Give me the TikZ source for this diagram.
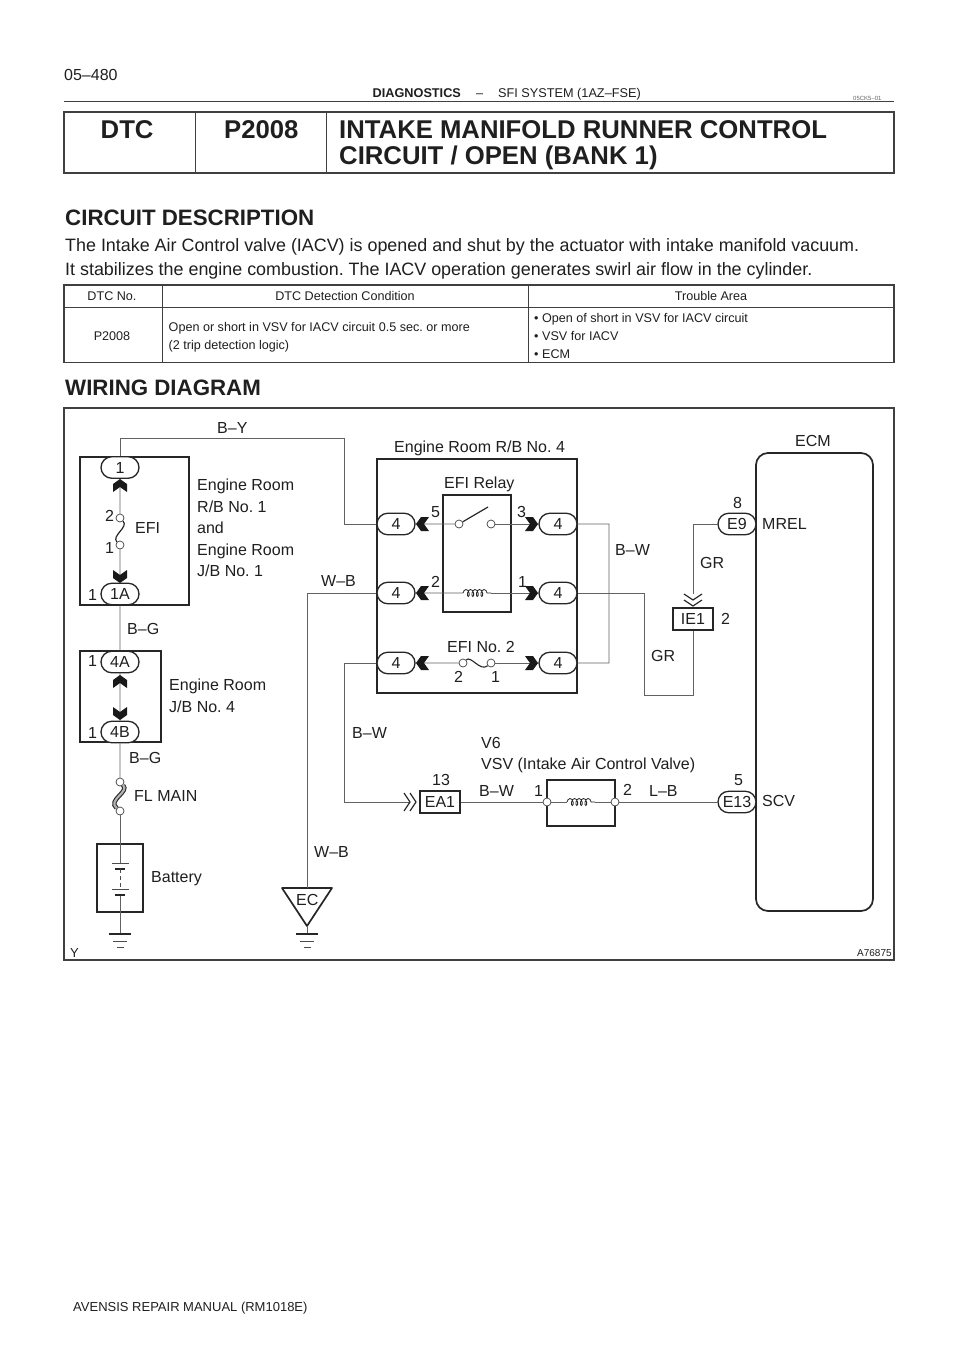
\documentclass[tikz,border=0pt]{standalone}
\usepackage{fontspec}
\setmainfont{Liberation Sans}
\frenchspacing
\usetikzlibrary{shapes.misc,decorations.pathmorphing}
\tikzset{
	wire/.style={line width=0.8pt, color=black!62},
	box/.style={line width=1.7pt, color=black!85},
	rule/.style={line width=1.5pt, color=black!75},
	thin rule/.style={line width=1pt, color=black!75},
	lbl/.style={anchor=base west, inner sep=0pt, color=black!88, font=\fontsize{16}{21.5}\selectfont},
	body lbl/.style={lbl, font=\fontsize{17.9}{21}\selectfont},
	small lbl/.style={lbl, font=\fontsize{12.6}{17}\selectfont},
	title lbl/.style={lbl, font=\bfseries\fontsize{25.7}{29}\selectfont},
	head lbl/.style={lbl, font=\bfseries\fontsize{22.3}{26}\selectfont},
	pill/.style={draw=black!85, fill=white, line width=1.3pt, rounded rectangle, minimum width=38pt, minimum height=21.5pt, inner sep=0pt, text=black!88, font=\fontsize{16}{18}\selectfont},
	block/.style={draw=black!85, fill=white, line width=1.4pt, minimum width=40pt, minimum height=22pt, inner sep=0pt, text=black!88, font=\fontsize{16}{18}\selectfont},
	term/.style={circle, draw=black!75, fill=white, line width=0.7pt, minimum size=8pt, inner sep=0pt},
	plug/.pic={\fill[black!90] (0,0) -- (7,5) -- (7,13) -- (0,8) -- (-7,13) -- (-7,5) -- cycle;},
	chev/.pic={\draw[line width=1.2pt, color=black!85] (-9,0) -- (0,6) -- (9,0) (-9,6) -- (0,12) -- (9,6);},
	gnd/.pic={\draw[line width=2pt, color=black!85] (-11,0) -- (11,0);
		\draw[line width=0.7pt, color=black!70] (-7,7) -- (7,7) (-3.5,13) -- (3.5,13);},
}
\begin{document}
\begin{tikzpicture}[x=1pt, y=-1pt]
		%%%%% START %%%%%
		\useasboundingbox (0, 0) rectangle (960, 1358);
		\fill[white] (0, 0) rectangle (960, 1358);
		
		% page head
		\node[lbl, font=\fontsize{16}{18}\selectfont] (pageno) at (64, 80) {05–480};
		\node[lbl, font=\bfseries\fontsize{12.7}{15}\selectfont] (headA) at (372.5, 97.5) {DIAGNOSTICS};
		\node[lbl, font=\fontsize{12.7}{15}\selectfont] (headB) at (476, 97.5) {–};
		\node[lbl, font=\fontsize{12.7}{15}\selectfont] (headC) at (498, 97.5) {SFI SYSTEM (1AZ–FSE)};
		\node[lbl, color=black!60, font=\fontsize{6}{8}\selectfont] (headD) at (853, 100) {05CK5–01};
		\draw[rule] (64, 101.5) -- (894, 101.5);
		
		% title block
		\draw[rule] (64, 112) rectangle (894, 173);
		\draw[thin rule] (195, 112) -- (195, 173);
		\draw[thin rule] (326, 112) -- (326, 173);
		\node[title lbl] (dtc) at (100.5, 138) {DTC};
		\node[title lbl] (code) at (224, 138) {P2008};
		\node[title lbl] (titleA) at (339, 138) {INTAKE MANIFOLD RUNNER CONTROL};
		\node[title lbl] (titleB) at (339, 164) {CIRCUIT / OPEN (BANK 1)};
		
		% description
		\node[head lbl] (descr) at (65, 225) {CIRCUIT DESCRIPTION};
		\node[body lbl] (descrA) at (65, 251) {The Intake Air Control valve (IACV) is opened and shut by the actuator with intake manifold vacuum.};
		\node[body lbl] (descrB) at (65, 275) {It stabilizes the engine combustion. The IACV operation generates swirl air flow in the cylinder.};
		
		% condition table
		\draw[rule] (64, 285) rectangle (894, 362.5);
		\draw[thin rule] (64, 307) -- (894, 307);
		\draw[thin rule] (162, 285) -- (162, 362.5);
		\draw[thin rule] (528, 285) -- (528, 362.5);
		\node[small lbl, anchor=base] (colA) at (112, 300.5) {DTC No.};
		\node[small lbl, anchor=base] (colB) at (345, 300.5) {DTC Detection Condition};
		\node[small lbl, anchor=base] (colC) at (711, 300.5) {Trouble Area};
		\node[small lbl, anchor=base] (rowA) at (112, 340) {P2008};
		\node[small lbl] (rowB) at (168.5, 331) {Open or short in VSV for IACV circuit 0.5 sec. or more};
		\node[small lbl] (rowC) at (168.5, 349) {(2 trip detection logic)};
		\node[small lbl] (rowD) at (534, 322) {• Open of short in VSV for IACV circuit};
		\node[small lbl] (rowE) at (534, 340) {• VSV for IACV};
		\node[small lbl] (rowF) at (534, 358) {• ECM};
		
		\node[head lbl] (wiring) at (65, 395) {WIRING DIAGRAM};
		
		% diagram frame
		\draw[line width=1.5pt, color=black!75] (64, 408) rectangle (894, 960);
		
		% boxes
		\draw[box] (80, 457) rectangle (189, 605);
		\draw[box] (80, 651) rectangle (161, 742);
		\draw[box] (97, 844) rectangle (143, 912);
		\draw[box] (377, 459) rectangle (577, 693);
		\draw[box] (443, 495) rectangle (511, 612);
		\draw[box] (547, 780) rectangle (615, 826);
		\draw[box, rounded corners=12pt] (756, 453) rectangle (873, 911);
		\draw[box, line join=round] (282, 888) -- (332, 888) -- (307, 926) -- cycle;
		
		% connectors
		\node[pill] (relA) at (120, 467.5) {1};
		\node[pill] (relB) at (120, 594) {1A};
		\node[pill] (jbA) at (120, 662) {4A};
		\node[pill] (jbB) at (120, 732) {4B};
		\node[pill] (leftA) at (396, 524) {4};
		\node[pill] (leftB) at (396, 593) {4};
		\node[pill] (leftC) at (396, 663) {4};
		\node[pill] (rightA) at (558, 524) {4};
		\node[pill] (rightB) at (558, 593) {4};
		\node[pill] (rightC) at (558, 663) {4};
		\node[pill] (ecmA) at (737, 524) {E9};
		\node[pill] (ecmB) at (737, 802) {E13};
		\node[block] (ieA) at (693, 619) {IE1};
		\node[block] (eaA) at (440, 802) {EA1};
		
		% terminals
		\node[term] (efiA) at (120, 518) {};
		\node[term] (efiB) at (120, 545) {};
		\node[term] (flA) at (120, 782) {};
		\node[term] (flB) at (120, 811) {};
		\node[term] (swA) at (459, 524) {};
		\node[term] (swB) at (491, 524) {};
		\node[term] (noA) at (463, 663) {};
		\node[term] (noB) at (491, 663) {};
		\node[term] (vsvA) at (547, 802) {};
		\node[term] (vsvB) at (615, 802) {};
		
		\coordinate (bendA) at (344, 438);
		\coordinate (bendB) at (307, 888);
		\coordinate (bendD) at (344, 802);
		\coordinate (bendF) at (609, 663);
		\coordinate (bendH) at (644, 695);
		\coordinate (bendI) at (693, 695);
		\coordinate (chevA) at (693, 594);
		\coordinate (chevB) at (409, 802);
		\coordinate (coilA) at (463, 593);
		\coordinate (coilB) at (491, 593);
		\coordinate (coilC) at (567, 802);
		\coordinate (coilD) at (595, 802);
		\coordinate (batA) at (120, 863);
		\coordinate (batB) at (120, 869);
		\coordinate (batC) at (120, 889);
		\coordinate (batD) at (120, 895);
		\coordinate (gndA) at (120, 934);
		\coordinate (gndB) at (307, 926);
		\coordinate (gndC) at (307, 934);
		
		% wires
		\draw[wire] (relA) |- (bendA) |- (leftA);
		\draw[wire] (relA) -- (efiA);
		\draw[wire] (efiB) -- (relB);
		\draw[wire] (relB) -- (jbA);
		\draw[wire] (jbA) -- (jbB);
		\draw[wire] (jbB) -- (flA);
		\draw[wire] (flB) -- (batA);
		\draw[wire] (batD) -- (gndA);
		\draw[wire] (gndB) -- (gndC);
		\draw[wire] (bendB) |- (leftB);
		\draw[wire] (leftC) -| (bendD) -- (chevB);
		\draw[wire] (leftA) -- (swA);
		\draw[wire] (swB) -- (rightA);
		\draw[wire] (leftB) -- (coilA);
		\draw[wire] (coilB) -- (rightB);
		\draw[wire] (leftC) -- (noA);
		\draw[wire] (noB) -- (rightC);
		\draw[wire] (rightA) -| (bendF) -- (rightC);
		\draw[wire] (rightB) -| (bendH) -- (bendI) -- (ieA);
		\draw[wire] (chevA) |- (ecmA);
		\draw[wire] (eaA) -- (vsvA);
		\draw[wire] (vsvA) -- (coilC);
		\draw[wire] (coilD) -- (vsvB);
		\draw[wire] (vsvB) -- (ecmB);
		
		% parts
		\draw[line width=1.2pt, color=black!85] (efiA) .. controls (129, 527) and (111, 536) .. (efiB);
		\draw[line width=1.1pt, color=black!85, double=black!30, double distance=2.2pt] (flA) .. controls (130, 792) and (107, 800) .. (flB);
		\draw[line width=1.2pt, color=black!85] (swA) -- (488, 507);
		\draw[line width=1.1pt, color=black!85] (noA) .. controls (471, 655) and (480, 672) .. (noB);
		\draw[line width=0.8pt, color=black!85, decorate, decoration={coil, aspect=0.55, segment length=4.5pt, amplitude=3.5pt}] (coilA) -- (coilB);
		\draw[line width=0.8pt, color=black!85, decorate, decoration={coil, aspect=0.55, segment length=4.5pt, amplitude=3.5pt}] (coilC) -- (coilD);
		\draw[line width=0.7pt, color=black!70] (112, 863) -- (129, 863);
		\draw[line width=1.6pt, color=black!85] (115, 869) -- (125, 869);
		\draw[line width=0.7pt, color=black!70, dash pattern=on 4pt off 3pt] (batB) -- (batC);
		\draw[line width=0.7pt, color=black!70] (112, 889) -- (129, 889);
		\draw[line width=1.6pt, color=black!85] (115, 895) -- (125, 895);
		
		\pic at (120, 479) {plug};
		\pic[rotate=180] at (120, 583) {plug};
		\pic at (120, 675) {plug};
		\pic[rotate=180] at (120, 720) {plug};
		\pic[rotate=90] at (416, 524) {plug};
		\pic[rotate=90] at (416, 593) {plug};
		\pic[rotate=90] at (416, 663) {plug};
		\pic[rotate=-90] at (538, 524) {plug};
		\pic[rotate=-90] at (538, 593) {plug};
		\pic[rotate=-90] at (538, 663) {plug};
		\pic at (693, 594) {chev};
		\pic[rotate=90] at (404, 802) {chev};
		\pic at (120, 934) {gnd};
		\pic at (307, 934) {gnd};
		
		% labels
		\node[lbl] (wireA) at (217, 433) {B–Y};
		\node[lbl] (nameA) at (394, 452.5) {Engine Room R/B No. 4};
		\node[lbl] (nameB) at (795, 446.5) {ECM};
		\node[lbl] (nameC) at (444, 488) {EFI Relay};
		\node[lbl] (pinA) at (431, 517.5) {5};
		\node[lbl] (pinB) at (517, 517.5) {3};
		\node[lbl] (pinC) at (431, 587.5) {2};
		\node[lbl] (pinD) at (518, 587.5) {1};
		\node[lbl] (nameD) at (447, 652.5) {EFI No. 2};
		\node[lbl] (pinE) at (454, 682) {2};
		\node[lbl] (pinF) at (491, 682) {1};
		\node[lbl] (wireB) at (615, 555.5) {B–W};
		\node[lbl] (wireC) at (321, 586.5) {W–B};
		\node[lbl] (pinG) at (733, 508.5) {8};
		\node[lbl] (sigA) at (762, 529.5) {MREL};
		\node[lbl] (wireD) at (700, 568.5) {GR};
		\node[lbl] (wireE) at (651, 661.5) {GR};
		\node[lbl] (pinH) at (721, 624) {2};
		\node[lbl] (wireF) at (352, 738.5) {B–W};
		\node[lbl] (nameE) at (481, 748.5) {V6};
		\node[lbl] (nameF) at (481, 769.5) {VSV (Intake Air Control Valve)};
		\node[lbl] (pinI) at (432, 785.5) {13};
		\node[lbl] (wireG) at (479, 796.5) {B–W};
		\node[lbl] (pinJ) at (534, 796) {1};
		\node[lbl] (pinK) at (623, 795) {2};
		\node[lbl] (wireH) at (649, 796.5) {L–B};
		\node[lbl] (pinL) at (734, 785.5) {5};
		\node[lbl] (sigB) at (762, 806.5) {SCV};
		\node[lbl] (nameG) at (135, 533.5) {EFI};
		\node[lbl] (pinM) at (105, 521.5) {2};
		\node[lbl] (pinN) at (105, 553.5) {1};
		\node[lbl] (pinO) at (88, 600) {1};
		\node[lbl] (pinP) at (88, 666) {1};
		\node[lbl] (pinQ) at (88, 738) {1};
		\node[lbl, anchor=north west, align=left] (nameH) at (197, 479) {Engine Room\\R/B No. 1\\and\\Engine Room\\J/B No. 1};
		\node[lbl] (wireI) at (127, 634.5) {B–G};
		\node[lbl, anchor=north west, align=left] (nameI) at (169, 679) {Engine Room\\J/B No. 4};
		\node[lbl] (wireJ) at (129, 763.5) {B–G};
		\node[lbl] (nameJ) at (134, 801.5) {FL MAIN};
		\node[lbl] (nameK) at (151, 882.5) {Battery};
		\node[lbl] (wireK) at (314, 857.5) {W–B};
		\node[lbl] (nameL) at (296, 905.5) {EC};
		\node[lbl, font=\fontsize{13}{15}\selectfont] (mark) at (70, 957) {Y};
		\node[lbl, font=\fontsize{10}{12}\selectfont] (ref) at (857, 956) {A76875};
		
		% page foot
		\node[lbl, font=\fontsize{13}{15}\selectfont] (foot) at (73, 1311) {AVENSIS REPAIR MANUAL   (RM1018E)};
		
		%%%%% END %%%%%
	\end{tikzpicture}
\end{document}
